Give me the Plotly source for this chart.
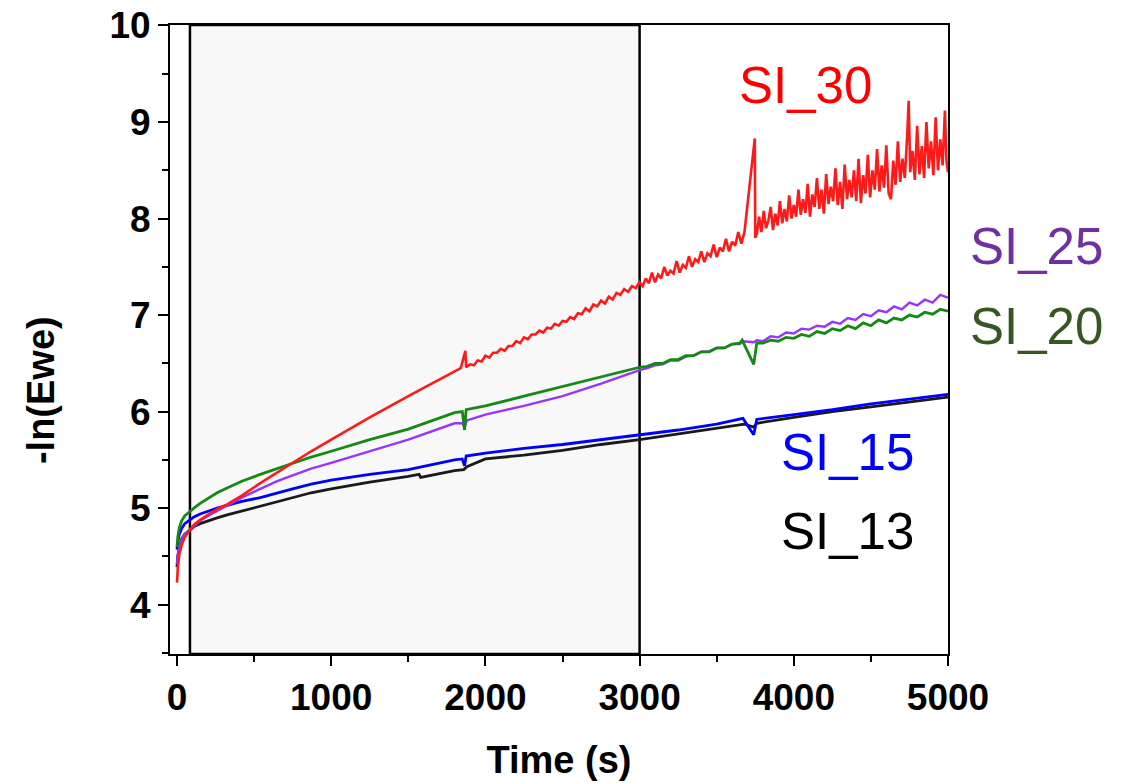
import plotly.graph_objects as go

# ---------------- data ----------------
t_early = [0, 5, 15, 30, 50, 84, 110, 150, 200, 260, 325, 420, 540, 650, 750, 870, 1000]

t_si13 = t_early + [1250, 1500, 1570, 1580, 1800, 1860, 1880,
                    2000, 2250, 2500, 2750, 3000, 3250, 3500, 3680, 3740, 3760, 4000, 4250, 4500, 4750, 5000]
y_si13 = [4.39, 4.50, 4.60, 4.68, 4.73, 4.78, 4.81, 4.84, 4.87, 4.90, 4.93, 4.97, 5.02, 5.07, 5.11, 5.16, 5.20,
          5.27, 5.33, 5.35, 5.32, 5.39, 5.40, 5.43,
          5.51, 5.55, 5.60, 5.66, 5.71, 5.77, 5.83, 5.87, 5.84, 5.88, 5.94, 6.00, 6.05, 6.10, 6.15]

t_si15 = t_early + [1250, 1500, 1800, 1850, 1865, 1875,
                    2000, 2250, 2500, 2750, 3000, 3250, 3500, 3670, 3740, 3760, 4000, 4250, 4500, 4750, 5000]
y_si15 = [4.57, 4.65, 4.73, 4.79, 4.84, 4.88, 4.91, 4.94, 4.97, 5.00, 5.03, 5.07, 5.11, 5.16, 5.20, 5.25, 5.29,
          5.35, 5.40, 5.50, 5.51, 5.44, 5.54,
          5.57, 5.62, 5.66, 5.71, 5.76, 5.81, 5.87, 5.93, 5.76, 5.92, 5.97, 6.02, 6.08, 6.13, 6.18]

t_si20 = t_early + [1250, 1500, 1800, 1850, 1865, 1875, 2000, 2250, 2500, 2750,
                    3000, 3050, 3100, 3150, 3200, 3250, 3300, 3350, 3400, 3450, 3500, 3550, 3600, 3650, 3665,
                    3740, 3760, 3800, 3850, 3900, 3950, 4000, 4050, 4100, 4150, 4200, 4250, 4300, 4350, 4400,
                    4450, 4500, 4550, 4600, 4650, 4700, 4750, 4800, 4850, 4900, 4950, 5000]
y_si20 = [4.60, 4.70, 4.80, 4.87, 4.92, 4.96, 5.00, 5.05, 5.10, 5.16, 5.21, 5.28, 5.35, 5.41, 5.47, 5.53, 5.59,
          5.71, 5.82, 5.99, 6.00, 5.81, 6.02, 6.06, 6.16, 6.26, 6.36,
          6.46, 6.47, 6.50, 6.50, 6.54, 6.54, 6.58, 6.58, 6.62, 6.62, 6.66, 6.66, 6.70, 6.71, 6.74,
          6.49, 6.71, 6.71, 6.74, 6.73, 6.77, 6.76, 6.80, 6.78, 6.83, 6.81, 6.86, 6.84, 6.89, 6.86,
          6.92, 6.89, 6.95, 6.92, 6.97, 6.95, 7.00, 6.98, 7.03, 7.01, 7.06, 7.04]

t_si25 = t_early + [1250, 1500, 1800, 1850, 1865, 1880, 2000, 2250, 2500, 2750,
                    3000, 3050, 3100, 3150, 3200, 3250, 3300, 3350, 3400, 3450, 3500, 3550, 3600, 3650, 3670,
                    3740, 3760, 3800, 3850, 3900, 3950, 4000, 4050, 4100, 4150, 4200, 4250, 4300, 4350, 4400,
                    4450, 4500, 4550, 4600, 4650, 4700, 4750, 4800, 4850, 4900, 4950, 5000]
y_si25 = [4.42, 4.52, 4.60, 4.67, 4.73, 4.78, 4.82, 4.87, 4.92, 4.97, 5.03, 5.11, 5.20, 5.28, 5.34, 5.41, 5.47,
          5.59, 5.71, 5.88, 5.88, 5.84, 5.91, 5.97, 6.06, 6.16, 6.29,
          6.43, 6.45, 6.48, 6.49, 6.53, 6.53, 6.57, 6.58, 6.62, 6.62, 6.66, 6.66, 6.70, 6.70, 6.73,
          6.72, 6.74, 6.73, 6.78, 6.77, 6.82, 6.81, 6.86, 6.85, 6.89, 6.88, 6.93, 6.91, 6.97, 6.95,
          7.01, 6.99, 7.05, 7.03, 7.09, 7.06, 7.13, 7.10, 7.16, 7.13, 7.21, 7.18]

t_si30 = t_early + [1250, 1500, 1800, 1840, 1870, 1875,
          1900, 1925, 1950, 1975, 2000, 2025, 2050, 2075, 2100, 2125, 2150, 2175, 2200, 2225, 2250, 2275,
          2300, 2325, 2350, 2375, 2400, 2425, 2450, 2475, 2500, 2525, 2550, 2575, 2600, 2625, 2650, 2675,
          2700, 2725, 2750, 2775, 2800, 2825, 2850, 2875, 2900, 2925, 2950, 2975, 3000,
          3020, 3040, 3060, 3080, 3100, 3120, 3140, 3160, 3180, 3200, 3220, 3240, 3260, 3280, 3300, 3320,
          3340, 3360, 3380, 3400, 3420, 3440, 3460, 3480, 3500, 3520, 3540, 3560, 3580, 3600, 3620, 3640,
          3660, 3680, 3700, 3720, 3747, 3750,
          3760, 3775, 3790, 3805, 3820, 3835, 3850, 3865, 3880, 3895, 3910, 3925, 3940, 3955, 3970, 3985,
          4000, 4015, 4030, 4045, 4060, 4075, 4090, 4105, 4120, 4135, 4150, 4165, 4180, 4195, 4210, 4225,
          4240, 4255, 4270, 4285, 4300, 4315, 4330, 4345, 4360, 4375, 4390, 4405, 4420, 4435, 4450, 4465,
          4480, 4495, 4510, 4525, 4540, 4555, 4570, 4585, 4600, 4615, 4630, 4645, 4660, 4675, 4690, 4705,
          4720, 4735, 4745, 4755, 4770, 4785, 4800, 4815, 4830, 4845, 4860, 4875, 4890, 4905, 4920, 4935,
          4950, 4965, 4980, 4990, 5000]
y_si30 = [4.23, 4.38, 4.52, 4.62, 4.70, 4.78, 4.83, 4.88, 4.93, 4.99, 5.04, 5.13, 5.26, 5.37, 5.47, 5.59, 5.71,
          5.94, 6.16, 6.41, 6.45, 6.63, 6.46,
          6.49, 6.48, 6.53, 6.52, 6.58, 6.56, 6.61, 6.61, 6.65, 6.63, 6.68, 6.68, 6.73, 6.71, 6.77, 6.75,
          6.80, 6.80, 6.84, 6.82, 6.87, 6.86, 6.91, 6.89, 6.94, 6.93, 6.98, 6.96, 7.02, 7.01, 7.07, 7.04,
          7.11, 7.09, 7.15, 7.12, 7.19, 7.16, 7.23, 7.21, 7.27, 7.24, 7.30, 7.28, 7.34,
          7.30, 7.38, 7.33, 7.44, 7.34, 7.42, 7.38, 7.50, 7.41, 7.46, 7.43, 7.56, 7.44, 7.52, 7.49, 7.61,
          7.50, 7.58, 7.55, 7.66, 7.55, 7.64, 7.61, 7.73, 7.60, 7.70, 7.66, 7.79, 7.66, 7.76, 7.72, 7.86,
          7.74, 7.86, 8.13, 8.42, 8.83, 7.80,
          7.84, 8.02, 7.86, 8.08, 7.90, 7.98, 8.12, 7.88, 8.05, 7.93, 8.18, 7.95, 8.10, 7.97, 8.24, 8.00,
          8.14, 8.02, 8.30, 8.04, 8.20, 8.06, 8.36, 8.02, 8.25, 8.12, 8.42, 8.10, 8.30, 8.05, 8.46, 8.15,
          8.33, 8.18, 8.52, 8.14, 8.38, 8.10, 8.56, 8.20, 8.40, 8.22, 8.50, 8.18, 8.62, 8.16, 8.45, 8.26,
          8.66, 8.22, 8.50, 8.30, 8.72, 8.28, 8.55, 8.32, 8.76, 8.26, 8.20, 8.60, 8.35, 8.80, 8.38, 8.62,
          8.42, 8.85, 9.22, 8.48, 8.70, 8.40, 8.96, 8.46, 8.75, 8.42, 9.00, 8.52, 8.80, 8.45, 9.05, 8.50,
          8.82, 8.55, 9.12, 8.60, 8.48]

series = [
    ("SI_13", t_si13, y_si13, "#1A1A1A", 2.8),
    ("SI_15", t_si15, y_si15, "#0000FF", 2.8),
    ("SI_25", t_si25, y_si25, "#9933FF", 2.4),
    ("SI_20", t_si20, y_si20, "#138A13", 2.8),
    ("SI_30", t_si30, y_si30, "#FF1A1A", 2.6),
]

labels = ["SI_30", "SI_25", "SI_20", "SI_15", "SI_13"]
label_colors = ["#FF0000", "#7030A0", "#375623", "#0000FF", "#000000"]
label_x = [4078, 5571, 5571, 4351, 4351]
label_y = [9.38, 7.71, 6.88, 5.58, 4.76]

x_ticks = [0, 1000, 2000, 3000, 4000, 5000]
y_ticks = [4, 5, 6, 7, 8, 9, 10]
shade_x0, shade_x1 = 84, 3000
x_range = [-45.4, 5000]
y_range = [3.49, 10.005]

# ---------------- figure ----------------
fig = go.Figure()
for name, t, y, col, w in series:
    fig.add_trace(go.Scatter(x=t, y=y, mode="lines", name=name,
                             line=dict(color=col, width=w), showlegend=False))

fig.add_shape(type="rect", xref="x", yref="paper", x0=shade_x0, x1=shade_x1, y0=0, y1=1,
              fillcolor="#F8F8F8", line=dict(color="black", width=2.5), layer="below")

for txt, col, lx, ly in zip(labels, label_colors, label_x, label_y):
    if x_range[0] <= lx <= x_range[1]:
        xr, xv = "x", lx
    else:
        xr, xv = "paper", (lx - x_range[0]) / (x_range[1] - x_range[0])
    fig.add_annotation(x=xv, y=ly, xref=xr, yref="y", text=txt, showarrow=False,
                       xanchor="center", yanchor="middle",
                       font=dict(family="Liberation Sans, Arial, sans-serif", size=51, color=col))

fig.add_annotation(x=-0.165, y=0.419, xref="paper", yref="paper", text="<b>-ln(Ewe)</b>",
                   textangle=-90, showarrow=False, xanchor="center", yanchor="middle",
                   font=dict(family="Liberation Sans, Arial, sans-serif", size=38, color="black"))

tickfont = dict(family="Liberation Sans, Arial, sans-serif", size=37, color="black", weight="bold")

fig.update_xaxes(range=x_range, tickvals=x_ticks, ticktext=[str(v) for v in x_ticks],
                 ticks="outside", ticklen=10, tickwidth=2, tickcolor="black",
                 minor=dict(dtick=500, tick0=0, ticks="outside", ticklen=6, tickwidth=1.5, tickcolor="black"),
                 showline=True, linecolor="black", linewidth=2, mirror=True, automargin=False,
                 ticklabeloverflow="allow",
                 showgrid=False, zeroline=False, tickfont=tickfont,
                 title=dict(text="<b>Time (s)</b>", standoff=29,
                            font=dict(family="Liberation Sans, Arial, sans-serif", size=38, color="black")))
fig.update_yaxes(range=y_range, tickvals=y_ticks, ticktext=[str(v) for v in y_ticks],
                 ticks="outside", ticklen=10, tickwidth=2, tickcolor="black",
                 minor=dict(dtick=0.5, tick0=0, ticks="outside", ticklen=6, tickwidth=1.5, tickcolor="black"),
                 showline=True, linecolor="black", linewidth=2, mirror=True, automargin=False,
                 ticklabeloverflow="allow",
                 showgrid=False, zeroline=False, tickfont=tickfont)

fig.update_layout(width=1123, height=783,
                  margin=dict(l=170, r=175, t=25, b=129),
                  plot_bgcolor="white", paper_bgcolor="white")

fig.write_html("out.html", config={"displayModeBar": False},
               post_script="document.body.style.margin='0px';")
